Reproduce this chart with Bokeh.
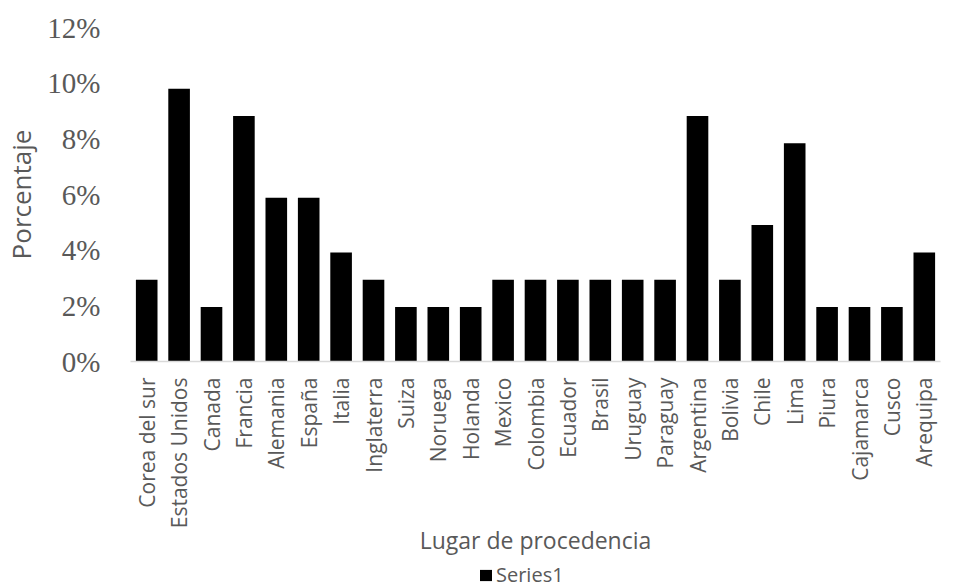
from bokeh.plotting import figure
from bokeh.layouts import column
from bokeh.models import FactorRange, Range1d, FixedTicker, PrintfTickFormatter, Legend, LegendItem, ColumnDataSource
from bokeh.embed import file_html
from bokeh.resources import INLINE
import math

lugares = ["Corea del sur", "Estados Unidos", "Canada", "Francia", "Alemania", "España",
           "Italia", "Inglaterra", "Suiza", "Noruega", "Holanda", "Mexico", "Colombia",
           "Ecuador", "Brasil", "Uruguay", "Paraguay", "Argentina", "Bolivia", "Chile",
           "Lima", "Piura", "Cajamarca", "Cusco", "Arequipa"]
porcentaje = [2.94, 9.80, 1.96, 8.82, 5.88, 5.88, 3.92, 2.94, 1.96, 1.96, 1.96, 2.94, 2.94,
              2.94, 2.94, 2.94, 2.94, 8.82, 2.94, 4.90, 7.84, 1.96, 1.96, 1.96, 3.92]
y_ticks = [0, 2, 4, 6, 8, 10, 12]
serie = "Series1"

TXT = "#595959"

src = ColumnDataSource(dict(x=lugares, y=porcentaje))

p = figure(width=960, height=559, x_range=FactorRange(*lugares), y_range=Range1d(0, 12),
           output_backend="svg", toolbar_location=None,
           min_border_left=130, min_border_right=20, min_border_top=27, min_border_bottom=198)
p.outline_line_color = None
p.xgrid.grid_line_color = None
p.ygrid.grid_line_color = None
p.x_range.range_padding = 0

p.vbar(x="x", top="y", width=0.667, source=src, fill_color="black", line_color=None)

# y axis
p.yaxis.ticker = FixedTicker(ticks=y_ticks)
p.yaxis.formatter = PrintfTickFormatter(format="%d%%")
p.yaxis.axis_line_color = None
p.yaxis.major_tick_line_color = None
p.yaxis.minor_tick_line_color = None
p.yaxis.major_label_text_font = "Liberation Serif"
p.yaxis.major_label_text_font_size = "29px"
p.yaxis.major_label_text_color = TXT
p.yaxis.major_label_standoff = 24
p.yaxis.axis_label = "Porcentaje"
p.yaxis.axis_label_text_font = "Open Sans"
p.yaxis.axis_label_text_font_style = "normal"
p.yaxis.axis_label_text_font_size = "26px"
p.yaxis.axis_label_text_color = TXT
p.yaxis.axis_label_standoff = 5

# x axis
p.xaxis.axis_line_color = "#d9d9d9"
p.xaxis.axis_line_width = 1.5
p.xaxis.major_tick_line_color = None
p.xaxis.minor_tick_line_color = None
p.xaxis.major_label_orientation = math.pi / 2
p.xaxis.major_label_text_font = "Open Sans"
p.xaxis.major_label_text_font_size = "21px"
p.xaxis.major_label_text_color = TXT
p.xaxis.major_label_standoff = 10
p.xaxis.axis_label = "Lugar de procedencia"
p.xaxis.axis_label_text_font = "Open Sans"
p.xaxis.axis_label_text_font_style = "normal"
p.xaxis.axis_label_text_font_size = "23px"
p.xaxis.axis_label_text_color = TXT
p.xaxis.axis_label_standoff = -7

# legend strip below the chart (its frame is aligned with the chart's frame)
lg = figure(width=960, height=29, x_range=Range1d(0, 1), y_range=Range1d(0, 1),
            output_backend="svg", toolbar_location=None, x_axis_type=None, y_axis_type=None,
            min_border=0)
lg.outline_line_color = None
lg.xgrid.grid_line_color = None
lg.ygrid.grid_line_color = None
# zero-size proxy glyph, only used to give the legend its swatch style
proxy = lg.quad(left=[0], right=[0], top=[0], bottom=[0], fill_color="black", line_color=None)
legend = Legend(items=[LegendItem(label=serie, renderers=[proxy])], orientation="horizontal",
                location=(348, 0), border_line_color=None, background_fill_alpha=0,
                padding=0, margin=0,
                label_text_font="Open Sans", label_text_font_size="20px",
                label_text_color=TXT, glyph_width=15, glyph_height=14, label_standoff=3)
lg.add_layout(legend, "center")

open("out.html", "w").write(file_html(column(p, lg, spacing=0), INLINE))
